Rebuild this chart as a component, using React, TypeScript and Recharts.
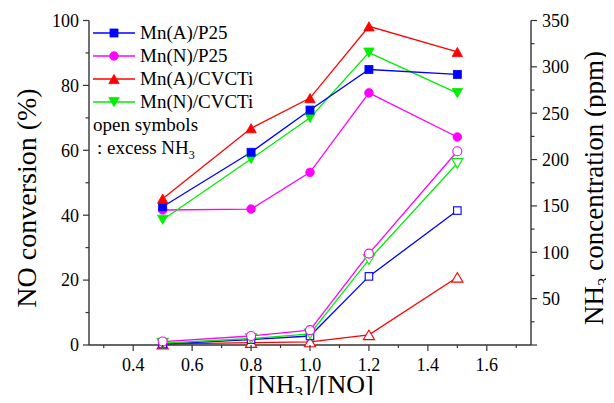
import React from "react";
import { Line, LineChart, XAxis, YAxis } from "recharts";

// [NH3]/[NO] ratios
const ratios = [0.5, 0.8, 1.0, 1.2, 1.5];

// NO conversion (%) - filled symbols
const noMnAP25 = [42.6, 59.4, 72.4, 84.9, 83.4];
const noMnNP25 = [41.6, 41.9, 53.2, 77.7, 64.1];
const noMnACVCTi = [45.1, 66.8, 76.1, 98.2, 90.3];
const noMnNCVCTi = [38.6, 57.3, 70.0, 90.1, 77.6];

// NH3 concentration (ppm) - open symbols
const nh3MnAP25 = [1, 5.8, 9.7, 74, 145];
const nh3MnNP25 = [3.7, 9.7, 16, 98.6, 209];
const nh3MnACVCTi = [1, 2.6, 3.3, 11, 73];
const nh3MnNCVCTi = [2, 7, 12, 92, 196];

const xTicks = [0.3, 0.4, 0.5, 0.6, 0.7, 0.8, 0.9, 1.0, 1.1, 1.2, 1.3, 1.4, 1.5, 1.6, 1.7];
const leftTicks = [0, 10, 20, 30, 40, 50, 60, 70, 80, 90, 100];
const rightTicks = [0, 25, 50, 75, 100, 125, 150, 175, 200, 225, 250, 275, 300, 325, 350];

const seriesNames = ["Mn(A)/P25", "Mn(N)/P25", "Mn(A)/CVCTi", "Mn(N)/CVCTi"];

const data = ratios.map((r, i) => ({
  ratio: r,
  aP25: noMnAP25[i],
  nP25: noMnNP25[i],
  aCVCTi: noMnACVCTi[i],
  nCVCTi: noMnNCVCTi[i],
  aP25nh3: nh3MnAP25[i],
  nP25nh3: nh3MnNP25[i],
  aCVCTinh3: nh3MnACVCTi[i],
  nCVCTinh3: nh3MnNCVCTi[i],
}));

const FONT = "'Liberation Serif', 'Times New Roman', serif";
const AXIS = "#333";
const BLUE = "#0000ff";
const MAGENTA = "#ff00ff";
const RED = "#ff0000";
const GREEN = "#00ee00";

type Shape = "square" | "circle" | "up" | "down";

const marker = (shape: Shape, cx: number, cy: number, color: string, open: boolean, key?: any) => {
  const fill = open ? "#fff" : color;
  const sw = open ? 1.1 : 0.8;
  if (shape === "square") {
    const s = open ? 7.5 : 8;
    return <rect key={key} x={cx - s / 2} y={cy - s / 2} width={s} height={s} fill={fill} stroke={color} strokeWidth={sw} />;
  }
  if (shape === "circle") {
    return <circle key={key} cx={cx} cy={cy} r={open ? 4.5 : 4.3} fill={fill} stroke={color} strokeWidth={sw} />;
  }
  const w = open ? 5.6 : 5.2;
  const h = open ? 4.8 : 4.6;
  const pts =
    shape === "up"
      ? `${cx},${cy - h} ${cx + w},${cy + h} ${cx - w},${cy + h}`
      : `${cx},${cy + h} ${cx + w},${cy - h} ${cx - w},${cy - h}`;
  return <polygon key={key} points={pts} fill={fill} stroke={color} strokeWidth={sw} />;
};

const dotFn = (shape: Shape, color: string, open: boolean) => (p: any) =>
  marker(shape, p.cx, p.cy, color, open, p.key ?? `${p.dataKey}-${p.index}`);

const LeftTick = (p: any) => {
  const v = p.payload.value;
  const major = v % 20 === 0;
  return (
    <g>
      <line x1={p.x} x2={p.x - (major ? 6 : 3.5)} y1={p.y} y2={p.y} stroke={AXIS} strokeWidth={1.2} />
      {major && (
        <text x={p.x - 10} y={p.y} dy="0.35em" textAnchor="end" fontSize={18} fontFamily={FONT} fill="#000">
          {v}
        </text>
      )}
    </g>
  );
};

const RightTick = (p: any) => {
  const v = p.payload.value;
  const major = v % 50 === 0;
  return (
    <g>
      <line x1={p.x} x2={p.x + (major ? 6 : 3.5)} y1={p.y} y2={p.y} stroke={AXIS} strokeWidth={1.2} />
      {major && v > 0 && (
        <text x={p.x + 11} y={p.y} dy="0.35em" textAnchor="start" fontSize={18} fontFamily={FONT} fill="#000">
          {v}
        </text>
      )}
    </g>
  );
};

const BottomTick = (p: any) => {
  const v = p.payload.value;
  const major = Math.round(v * 10) % 2 === 0;
  return (
    <g>
      <line x1={p.x} x2={p.x} y1={p.y} y2={p.y + (major ? 6 : 3)} stroke={AXIS} strokeWidth={1.2} />
      {major && (
        <text x={p.x} y={p.y + 26} textAnchor="middle" fontSize={18} fontFamily={FONT} fill="#000">
          {v.toFixed(1)}
        </text>
      )}
    </g>
  );
};

const LeftTitle = () => (
  <text
    x={36}
    y={198}
    transform="rotate(-90, 36, 198)"
    textAnchor="middle"
    fontSize={28}
    fontFamily={FONT}
    fill="#000"
  >
    NO conversion (%)
  </text>
);

const RightTitle = () => (
  <text
    x={603}
    y={188}
    transform="rotate(-90, 603, 188)"
    textAnchor="middle"
    fontSize={27}
    fontFamily={FONT}
    fill="#000"
  >
    NH
    <tspan fontSize={17} dy={6}>3</tspan>
    <tspan dy={-6}> concentration (ppm)</tspan>
  </text>
);

const BottomTitle = () => (
  <text x={311} y={393} textAnchor="middle" fontSize={26} fontFamily={FONT} fill="#000">
    [NH
    <tspan fontSize={17} dy={5}>3</tspan>
    <tspan dy={-5}>]/[NO]</tspan>
  </text>
);

const legendColors = [BLUE, MAGENTA, RED, GREEN];
const legendShapes: Shape[] = ["square", "circle", "up", "down"];

const LegendBox = () => (
  <svg width={614} height={403} style={{ position: "absolute", left: 0, top: 0, pointerEvents: "none" }}>
    {seriesNames.map((name, i) => {
      const y = 33 + i * 23;
      return (
        <g key={name}>
          <line x1={93} x2={135} y1={y} y2={y} stroke={legendColors[i]} strokeWidth={1.3} />
          {marker(legendShapes[i], 114, y, legendColors[i], false)}
          <text x={140} y={y + 6} fontSize={19} fontFamily={FONT} fill="#000">
            {name}
          </text>
        </g>
      );
    })}
    <text x={93} y={131} fontSize={19} fontFamily={FONT} fill="#000">
      open symbols
    </text>
    <text x={97} y={154} fontSize={19} fontFamily={FONT} fill="#000">
      : excess NH
      <tspan fontSize={12} dy={5}>3</tspan>
    </text>
  </svg>
);

export default function App() {
  const lineProps = { type: "linear" as const, strokeWidth: 1.3, isAnimationActive: false, activeDot: false };
  return (
    <div style={{ position: "relative", width: 614, height: 403, margin: -8, background: "#fff" }}>
      <LineChart width={614} height={403} data={data} margin={{ top: 20.5, right: 0, bottom: 0, left: 0 }}>
        <XAxis
          xAxisId="b"
          dataKey="ratio"
          type="number"
          domain={[0.25, 1.75]}
          ticks={xTicks}
          interval={0}
          height={58}
          stroke={AXIS}
          strokeWidth={1.4}
          tickLine={false}
          tickSize={0}
          tickMargin={0}
          tick={<BottomTick />}
          label={<BottomTitle />}
        />
        <XAxis
          xAxisId="t"
          dataKey="ratio"
          type="number"
          orientation="top"
          domain={[0.25, 1.75]}
          height={0}
          stroke={AXIS}
          strokeWidth={1.4}
          tick={false}
          tickLine={false}
        />
        <YAxis
          yAxisId="l"
          domain={[0, 100]}
          ticks={leftTicks}
          interval={0}
          width={89}
          stroke={AXIS}
          strokeWidth={1.4}
          tickLine={false}
          tickSize={0}
          tickMargin={0}
          tick={<LeftTick />}
          label={<LeftTitle />}
        />
        <YAxis
          yAxisId="r"
          orientation="right"
          domain={[0, 350]}
          ticks={rightTicks}
          interval={0}
          width={83}
          stroke={AXIS}
          strokeWidth={1.4}
          tickLine={false}
          tickSize={0}
          tickMargin={0}
          tick={<RightTick />}
          label={<RightTitle />}
        />

        <Line {...lineProps} xAxisId="b" yAxisId="r" dataKey="aCVCTinh3" stroke={RED} dot={dotFn("up", RED, true)} />
        <Line {...lineProps} xAxisId="b" yAxisId="r" dataKey="aP25nh3" stroke={BLUE} dot={dotFn("square", BLUE, true)} />
        <Line {...lineProps} xAxisId="b" yAxisId="r" dataKey="nCVCTinh3" stroke={GREEN} dot={dotFn("down", GREEN, true)} />
        <Line {...lineProps} xAxisId="b" yAxisId="r" dataKey="nP25nh3" stroke={MAGENTA} dot={dotFn("circle", MAGENTA, true)} />

        <Line {...lineProps} xAxisId="b" yAxisId="l" dataKey="nP25" stroke={MAGENTA} dot={dotFn("circle", MAGENTA, false)} />
        <Line {...lineProps} xAxisId="b" yAxisId="l" dataKey="nCVCTi" stroke={GREEN} dot={dotFn("down", GREEN, false)} />
        <Line {...lineProps} xAxisId="b" yAxisId="l" dataKey="aP25" stroke={BLUE} dot={dotFn("square", BLUE, false)} />
        <Line {...lineProps} xAxisId="b" yAxisId="l" dataKey="aCVCTi" stroke={RED} dot={dotFn("up", RED, false)} />
      </LineChart>
      <LegendBox />
    </div>
  );
}
